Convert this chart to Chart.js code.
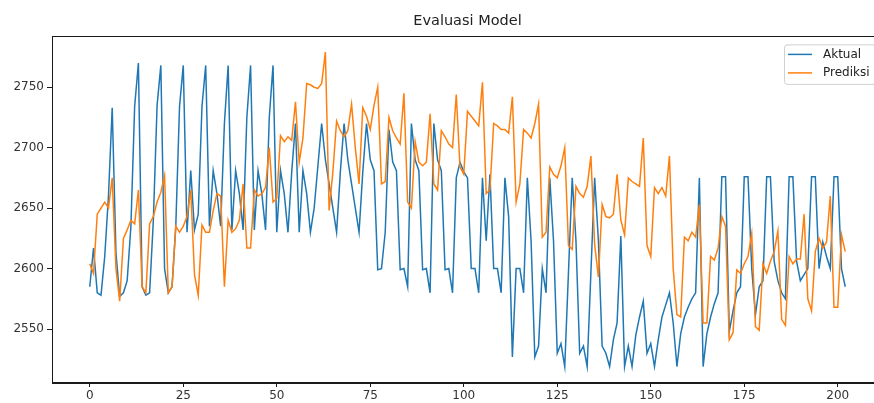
<!DOCTYPE html>
<html><head><meta charset="utf-8">
<style>
html,body{margin:0;padding:0;background:#fff;overflow:hidden;width:874px;height:403px;}
#wrap{position:absolute;left:0;top:0;width:934px;height:403px;}
</style>
<script src="https://cdn.jsdelivr.net/npm/chart.js@4.4.1/dist/chart.umd.min.js"></script>
</head><body><div id="wrap"><canvas id="c" width="934" height="403"></canvas></div>
<script>
const TITLE = 'Evaluasi Model';
const SERIES_NAMES = ['Aktual', 'Prediksi'];
const aktual = [
2585,2617,2580,2578,2610,2660,2733,2613,2577,2580,
2590,2635,2734,2770,2585,2578,2580,2640,2735,2768,
2600,2580,2585,2635,2734,2768,2630,2681,2632,2645,
2734,2768,2635,2681,2662,2635,2720,2768,2632,2681,
2662,2632,2725,2768,2632,2681,2662,2632,2725,2768,
2630,2681,2662,2630,2680,2720,2630,2681,2662,2630,
2650,2685,2720,2690,2670,2650,2630,2680,2720,2690,
2670,2650,2630,2680,2720,2690,2681,2599,2600,2630,
2715,2688,2681,2599,2600,2585,2720,2690,2681,2599,
2600,2580,2720,2690,2681,2599,2600,2580,2675,2688,
2680,2675,2600,2600,2580,2675,2623,2678,2600,2600,
2580,2675,2643,2527,2600,2600,2580,2675,2623,2527,
2536,2600,2580,2675,2623,2530,2538,2519,2597,2675,
2623,2530,2536,2519,2597,2675,2623,2536,2530,2519,
2541,2555,2627,2519,2536,2519,2545,2560,2573,2530,
2538,2519,2541,2560,2570,2580,2555,2519,2546,2560,
2568,2575,2580,2675,2519,2546,2560,2571,2580,2676,
2676,2548,2565,2580,2585,2676,2676,2600,2562,2585,
2590,2676,2676,2606,2590,2580,2575,2676,2676,2606,
2590,2595,2600,2676,2676,2600,2622,2610,2600,2676,
2676,2600,2585
];
const prediksi = [
2604,2596,2645,2650,2655,2650,2675,2600,2573,2625,
2632,2640,2637,2665,2585,2580,2637,2643,2655,2663,
2677,2580,2585,2635,2630,2635,2643,2665,2595,2578,
2636,2630,2630,2648,2662,2660,2585,2640,2630,2633,
2640,2670,2617,2617,2665,2660,2662,2667,2700,2655,
2658,2710,2705,2709,2706,2738,2688,2708,2753,2752,
2750,2749,2753,2779,2648,2680,2722,2714,2709,2714,
2736,2700,2670,2733,2726,2715,2735,2750,2670,2672,
2725,2714,2708,2703,2745,2655,2650,2705,2688,2685,
2688,2728,2670,2665,2714,2709,2703,2700,2744,2684,
2678,2730,2726,2722,2718,2754,2662,2665,2720,2718,
2715,2715,2712,2742,2655,2670,2715,2712,2708,2720,
2736,2626,2630,2684,2678,2675,2685,2700,2619,2616,
2668,2662,2659,2668,2693,2620,2593,2653,2643,2642,
2645,2678,2640,2628,2675,2672,2670,2668,2708,2619,
2610,2667,2662,2667,2660,2693,2600,2562,2560,2626,
2623,2630,2626,2653,2555,2555,2610,2607,2617,2643,
2635,2541,2547,2599,2596,2604,2610,2629,2552,2549,
2604,2596,2606,2614,2631,2558,2553,2610,2604,2608,
2608,2645,2575,2565,2614,2625,2617,2622,2660,2568,
2568,2628,2614
];
const xTicks = [0, 25, 50, 75, 100, 125, 150, 175, 200];
const yTicks = [2550, 2600, 2650, 2700, 2750];
const COLORS = ['#1f77b4', '#ff7f0e'];

const toPts = arr => arr.map((v, i) => ({x: i, y: v}));
const FONT = 'DejaVu Sans';

const framePlugin = {
  id: 'frame',
  afterDatasetsDraw(chart) {
    const {ctx, chartArea: a} = chart;
    ctx.save();
    ctx.strokeStyle = '#1a1a1a';
    ctx.lineWidth = 1;
    ctx.strokeRect(Math.round(a.left) + 0.5, Math.round(a.top) + 0.5, Math.round(a.right - a.left) - 1, Math.round(a.bottom - a.top) - 1);
    ctx.restore();
  }
};

const legendPlugin = {
  id: 'boxLegend',
  afterDraw(chart) {
    const {ctx, chartArea: a} = chart;
    const right = a.right - 7, top = a.top + 8;
    const w = 92, h = 40;
    const left = right - w;
    ctx.save();
    ctx.fillStyle = 'rgba(255,255,255,0.85)';
    ctx.strokeStyle = '#d0d0d0';
    ctx.lineWidth = 1;
    const r = 3;
    ctx.beginPath();
    ctx.moveTo(left + r, top + 0.5);
    ctx.lineTo(right - r, top + 0.5);
    ctx.arcTo(right, top + 0.5, right, top + r, r);
    ctx.lineTo(right, top + h - r);
    ctx.arcTo(right, top + h, right - r, top + h, r);
    ctx.lineTo(left + r, top + h);
    ctx.arcTo(left + 0.5, top + h, left + 0.5, top + h - r, r);
    ctx.lineTo(left + 0.5, top + r);
    ctx.arcTo(left + 0.5, top + 0.5, left + r, top + 0.5, r);
    ctx.closePath();
    ctx.fill();
    ctx.stroke();
    ctx.font = '12px "' + FONT + '"';
    ctx.textBaseline = 'middle';
    ctx.textAlign = 'left';
    SERIES_NAMES.forEach((name, k) => {
      const y = top + 10 + k * 18.5;
      ctx.strokeStyle = COLORS[k];
      ctx.lineWidth = 1.5;
      ctx.beginPath();
      ctx.moveTo(left + 4, y);
      ctx.lineTo(left + 28, y);
      ctx.stroke();
      ctx.fillStyle = '#222';
      ctx.fillText(name, left + 39, y);
    });
    ctx.restore();
  }
};

new Chart(document.getElementById('c'), {
  type: 'line',
  data: {
    datasets: [
      {label: SERIES_NAMES[0], data: toPts(aktual), borderColor: COLORS[0], backgroundColor: COLORS[0], order: 1},
      {label: SERIES_NAMES[1], data: toPts(prediksi), borderColor: COLORS[1], backgroundColor: COLORS[1], order: 0}
    ]
  },
  options: {
    responsive: false,
    animation: false,
    devicePixelRatio: 1,
    parsing: false,
    layout: {padding: {left: 0, right: 51, top: 0, bottom: 0}},
    elements: {point: {radius: 0, hoverRadius: 0}, line: {tension: 0, borderWidth: 1.5, fill: false}},
    plugins: {
      legend: {display: false},
      tooltip: {enabled: false},
      title: {display: true, text: TITLE, color: '#222', fullSize: false,
        font: {family: FONT, size: 14.5, weight: 'normal'}, padding: {top: 12.5, bottom: 6.5}}
    },
    scales: {
      x: {
        type: 'linear', min: -10.1, max: 212.1,
        afterBuildTicks: ax => { ax.ticks = xTicks.map(v => ({value: v})); },
        afterFit: s => { s.height = 20; },
        grid: {display: true, drawOnChartArea: false, drawTicks: true, tickLength: 4, color: '#1a1a1a'},
        border: {display: true, color: '#1a1a1a', width: 1},
        ticks: {font: {family: FONT, size: 12}, color: '#333', padding: 2, maxRotation: 0, autoSkip: false,
          callback: v => String(v)}
      },
      y: {
        type: 'linear', min: 2505.4, max: 2792,
        afterBuildTicks: ax => { ax.ticks = yTicks.map(v => ({value: v})); },
        afterFit: s => { s.width = 52; },
        grid: {display: true, drawOnChartArea: false, drawTicks: true, tickLength: 5, color: '#1a1a1a'},
        border: {display: true, color: '#1a1a1a', width: 1},
        ticks: {font: {family: FONT, size: 12}, color: '#333', padding: 3, autoSkip: false,
          callback: v => String(v)}
      }
    }
  },
  plugins: [framePlugin, legendPlugin]
});
</script>
</body></html>
